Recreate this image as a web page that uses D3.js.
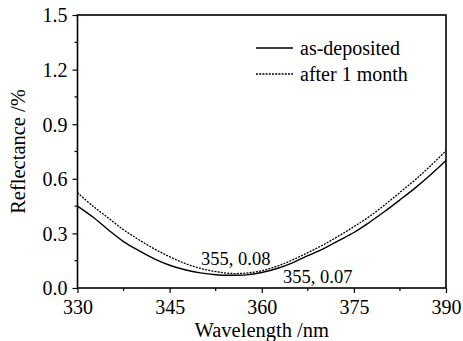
<!DOCTYPE html>
<html><head><meta charset="utf-8">
<script src="https://cdn.jsdelivr.net/npm/d3@7"></script>
<style>body{margin:0;background:#fff}svg{display:block}svg text{font-family:"Liberation Serif" !important}</style>
</head><body><svg id="c" width="463" height="341"></svg>
<script>
const wavelength = [330,332.5,335,337.5,340,342.5,345,347.5,350,352.5,355,357.5,360,362.5,365,367.5,370,372.5,375,377.5,380,382.5,385,387.5,390];
const asDeposited = [0.45,0.39,0.32,0.255,0.205,0.16,0.125,0.10,0.083,0.073,0.070,0.072,0.085,0.107,0.138,0.178,0.215,0.26,0.305,0.36,0.42,0.484,0.55,0.622,0.70];
const afterMonth = [0.524,0.45,0.385,0.32,0.265,0.215,0.172,0.135,0.108,0.09,0.08,0.082,0.095,0.12,0.154,0.194,0.237,0.285,0.337,0.392,0.456,0.525,0.595,0.672,0.754];
const xTicks = [330,345,360,375,390];
const yTicks = [0.0,0.3,0.6,0.9,1.2,1.5];
const seriesNames = ["as-deposited","after 1 month"];
const annotations = [{x:355,y:0.08,label:"355, 0.08"},{x:355,y:0.07,label:"355, 0.07"}];

const FONT = "Liberation Serif";
const svg = d3.select("#c");
const L=77.5, R=446, T=15, B=288;
const x = d3.scaleLinear().domain([330,390]).range([L,R]);
const y = d3.scaleLinear().domain([0,1.5]).range([B,T]);

const xMinor = d3.range(330,390.01,7.5).filter(v=>!xTicks.includes(v));
const yMinor = d3.range(0,1.501,0.15).filter(v=>!yTicks.some(t=>Math.abs(t-v)<1e-6));
const g = svg.append("g");
g.selectAll(".xm").data(xMinor).enter().append("line")
 .attr("x1",d=>x(d)).attr("x2",d=>x(d)).attr("y1",B).attr("y2",B+3).attr("stroke","#000").attr("stroke-width",1.2);
g.selectAll(".ym").data(yMinor).enter().append("line")
 .attr("x1",L-3).attr("x2",L).attr("y1",d=>y(d)).attr("y2",d=>y(d)).attr("stroke","#000").attr("stroke-width",1.2);

const xAxis = svg.append("g").attr("transform",`translate(0,${B})`)
 .call(d3.axisBottom(x).tickValues(xTicks).tickSize(5).tickPadding(4).tickFormat(d3.format("d")));
const yAxis = svg.append("g").attr("transform",`translate(${L},0)`)
 .call(d3.axisLeft(y).tickValues(yTicks).tickSize(5).tickPadding(5).tickFormat(d3.format(".1f")));
[xAxis,yAxis].forEach(a=>{
  a.attr("font-family",FONT).attr("font-size",20);
  a.select(".domain").remove();
  a.selectAll("line").attr("stroke","#000").attr("stroke-width",1.2);
  a.selectAll("text").attr("font-family",FONT).style("font-family",FONT).attr("font-size",20).attr("fill","#000");
});
xAxis.selectAll("text").attr("dy","0.85em");
yAxis.selectAll("text").attr("dy","0.34em");

svg.append("rect").attr("x",L).attr("y",T).attr("width",R-L).attr("height",B-T)
 .attr("fill","none").attr("stroke","#000").attr("stroke-width",1.6);

const line = d3.line().x(d=>x(d[0])).y(d=>y(d[1])).curve(d3.curveCatmullRom);
svg.append("path").datum(wavelength.map((w,i)=>[w,asDeposited[i]]))
 .attr("d",line).attr("fill","none").attr("stroke","#000").attr("stroke-width",1.4);
svg.append("path").datum(wavelength.map((w,i)=>[w,afterMonth[i]]))
 .attr("d",line).attr("fill","none").attr("stroke","#000").attr("stroke-width",1.3).attr("stroke-dasharray","2,1.2");

const leg = svg.append("g");
const ly=[48,74];
leg.append("line").attr("x1",256).attr("x2",293).attr("y1",ly[0]).attr("y2",ly[0]).attr("stroke","#000").attr("stroke-width",1.4);
leg.append("line").attr("x1",256).attr("x2",293).attr("y1",ly[1]).attr("y2",ly[1]).attr("stroke","#000").attr("stroke-width",1.3).attr("stroke-dasharray","2,1.2");
seriesNames.forEach((n,i)=>leg.append("text").attr("x",300).attr("y",ly[i]).attr("dy","0.35em")
  .attr("font-family",FONT).style("font-family",FONT).attr("font-size",20).text(n));

svg.append("text").attr("x",201).attr("y",265).attr("font-family",FONT).style("font-family",FONT).attr("font-size",18.5).text(annotations[0].label);
svg.append("text").attr("x",283).attr("y",283).attr("font-family",FONT).style("font-family",FONT).attr("font-size",18.5).text(annotations[1].label);

svg.append("text").attr("x",(L+R)/2).attr("y",337).attr("text-anchor","middle").attr("font-family",FONT).style("font-family",FONT).attr("font-size",20.5).text("Wavelength /nm");
svg.append("text").attr("transform",`translate(25,${(T+B)/2}) rotate(-90)`).attr("text-anchor","middle").attr("font-family",FONT).style("font-family",FONT).attr("font-size",20.5).text("Reflectance /%");
</script></body></html>
